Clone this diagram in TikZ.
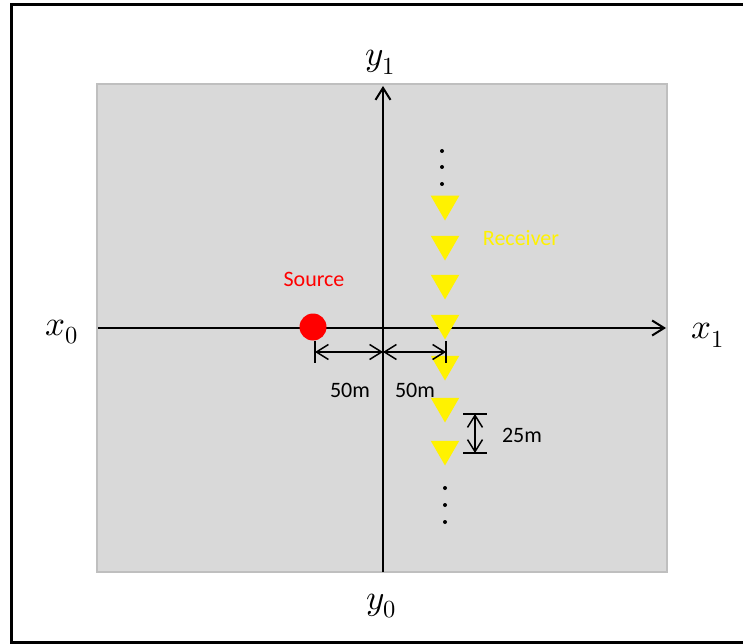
\documentclass[tikz,border=0pt]{standalone}
\usepackage{fontspec}
\usepackage{unicode-math}
\setmainfont{Carlito}
\setmathfont{Latin Modern Math}
\usepackage{tikz}
\usetikzlibrary{shapes.geometric,arrows.meta,positioning}
\definecolor{panel}{HTML}{D9D9D9}
\definecolor{panelrim}{HTML}{BFBFBF}

\begin{document}
\begin{tikzpicture}[x=1pt,y=-1pt,>={Straight Barb[length=12pt,width=15pt]}]
\tikzstyle{recv}=[regular polygon,regular polygon sides=3,shape border rotate=180,fill=yellow,minimum size=33pt,inner sep=0pt]
\tikzstyle{lbl}=[font=\fontsize{22}{26}\selectfont,inner sep=0pt]
\tikzstyle{ax}=[font=\fontsize{35}{40}\selectfont,inner sep=0pt]
\tikzstyle{dot}=[circle,fill=black,inner sep=0pt,minimum size=4pt]
\tikzstyle{dim}=[<->,line width=1.5pt]
\useasboundingbox (0,0) rectangle (743,644);
\draw[line width=3pt] (11,5) rectangle (760,642);
\draw[fill=panel,draw=panelrim,line width=2.5pt] (97,84) rectangle (667,572);
% axes
\coordinate (xl) at (98,328);
\coordinate (xr) at (666,328);
\coordinate (yb) at (383,572);
\coordinate (yt) at (383,86);
\draw[->,line width=2pt] (xl)--(xr);
\draw[->,line width=2pt] (yb)--(yt);
\node[ax] (x0) at (62,332) {$x_0$};
\node[ax] (x1) at (708,335) {$x_1$};
\node[ax] (y1) at (380,62) {$y_1$};
\node[ax] (y0) at (381,606) {$y_0$};
% source
\node[circle,fill=red,minimum size=27pt,inner sep=0pt] (src) at (313,327) {};
\node[lbl,text=red] (srclbl) at (314,279) {Source};
% receivers
\foreach \i/\y in {1/204,2/244,3/283,4/323,5/364,6/406,7/449}
  \node[recv] (r\i) at (445,\y) {};
\node[lbl,text=yellow] (rcvlbl) at (521,238) {Receiver};
\foreach \y in {151,167,184} \node[dot] at (442,\y) {};
\foreach \y in {488,505,522} \node[dot] at (445,\y) {};
% offsets
\coordinate (d1) at (315,352);
\coordinate (d0) at (383,352);
\coordinate (d2) at (446,352);
\draw[line width=1.5pt] (d1) ++(0,-11) -- ++(0,22);
\draw[line width=1.5pt] (d2) ++(0,-11) -- ++(0,22);
\draw[dim] (d1)--(d0);
\draw[dim] (d0)--(d2);
\node[lbl] (off1) at (350,390) {50m};
\node[lbl] (off2) at (415,390) {50m};
% spacing
\coordinate (e1) at (475,414);
\coordinate (e2) at (475,453);
\draw[line width=1.5pt] (e1) ++(-12,0) -- ++(24,0);
\draw[line width=1.5pt] (e2) ++(-12,0) -- ++(24,0);
\draw[dim] (e1)--(e2);
\node[lbl] (gap) at (522,435) {25m};
\end{tikzpicture}
\end{document}
